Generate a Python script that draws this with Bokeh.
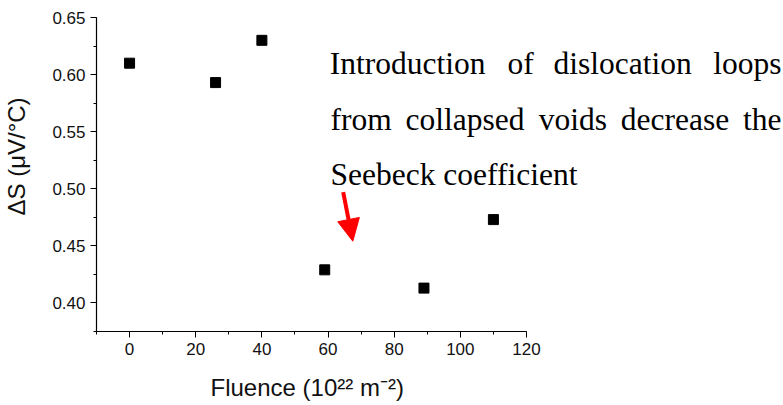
from bokeh.plotting import figure
from bokeh.models import (Label, Arrow, NormalHead, SingleIntervalTicker,
                          NumeralTickFormatter, Range1d, Title)
from bokeh.embed import file_html
from bokeh.resources import INLINE

# data
fluence = [0, 26, 40, 59, 89, 110]
delta_s = [0.610, 0.593, 0.630, 0.429, 0.413, 0.473]

x_label = "Fluence (10²² m⁻²)"
y_label = "ΔS (μV/°C)"
note_line1 = ["Introduction", "of", "dislocation", "loops"]
note_line2 = ["from", "collapsed", "voids", "decrease", "the"]
note_line3 = "Seebeck coefficient"

# frame extends to the right edge so the note is not clipped;
# the x axis itself is bounded to -10..120
p = figure(frame_width=687, frame_height=314,
           min_border_left=96, min_border_right=0,
           min_border_top=17, min_border_bottom=74,
           x_range=Range1d(-10, 197.7), y_range=Range1d(0.375, 0.65),
           output_backend="svg", toolbar_location=None,
           background_fill_color="white", border_fill_color="white")

p.xgrid.visible = False
p.ygrid.visible = False
p.outline_line_color = None

p.xaxis.ticker = SingleIntervalTicker(interval=20, num_minor_ticks=2)
p.xaxis.bounds = (-10, 120)
p.yaxis.ticker = SingleIntervalTicker(interval=0.05, num_minor_ticks=2)
p.yaxis.formatter = NumeralTickFormatter(format="0.00")

for ax in (p.xaxis[0], p.yaxis[0]):
    ax.axis_line_color = "black"
    ax.axis_line_width = 1.2
    ax.major_tick_line_color = "black"
    ax.minor_tick_line_color = "black"
    ax.major_tick_in = 0
    ax.major_tick_out = 6
    ax.minor_tick_in = 0
    ax.minor_tick_out = 3
    ax.major_label_text_font = "Liberation Sans"
    ax.major_label_text_font_size = "17px"
    ax.major_label_text_color = "#111111"
    ax.major_label_standoff = 5

# y label: leading en-spaces lift the centred label to where the original sits
p.yaxis.axis_label = "\u2002\u2002\u2002" + y_label
p.yaxis.axis_label_standoff = 19
p.yaxis.axis_label_text_font = "Liberation Sans"
p.yaxis.axis_label_text_font_size = "24px"
p.yaxis.axis_label_text_font_style = "normal"
p.yaxis.axis_label_text_color = "#111111"

p.add_layout(Title(text=x_label, align="left", offset=114, standoff=29,
                   text_font="Liberation Sans", text_font_size="24px",
                   text_font_style="normal", text_color="#111111"), "below")

p.scatter(fluence, delta_s, marker="square", size=10,
          fill_color="black", line_color="black")

# annotation text (justified lines)
serif = dict(text_font="Liberation Serif", text_font_size="31.5px",
             text_color="black", text_baseline="alphabetic")
line1_x = [60.53, 114.26, 128.16, 197.09]
for i, (w, xx) in enumerate(zip(note_line1, line1_x)):
    p.add_layout(Label(x=xx, y=0.6098, text=w,
                       text_align="right" if i == len(note_line1) - 1 else "left",
                       **serif))
line2_x = [60.74, 83.45, 123.69, 148.51, 197.09]
for i, (w, xx) in enumerate(zip(note_line2, line2_x)):
    p.add_layout(Label(x=xx, y=0.5605, text=w,
                       text_align="right" if i == len(note_line2) - 1 else "left",
                       **serif))
p.add_layout(Label(x=60.74, y=0.5125, text=note_line3, text_align="left", **serif))

p.add_layout(Arrow(end=NormalHead(size=22, fill_color="red", line_color="red"),
                   x_start=64.58, y_start=0.497, x_end=67.49, y_end=0.4541,
                   line_color="red", line_width=4))

open("out.html", "w").write(file_html(p, INLINE))
